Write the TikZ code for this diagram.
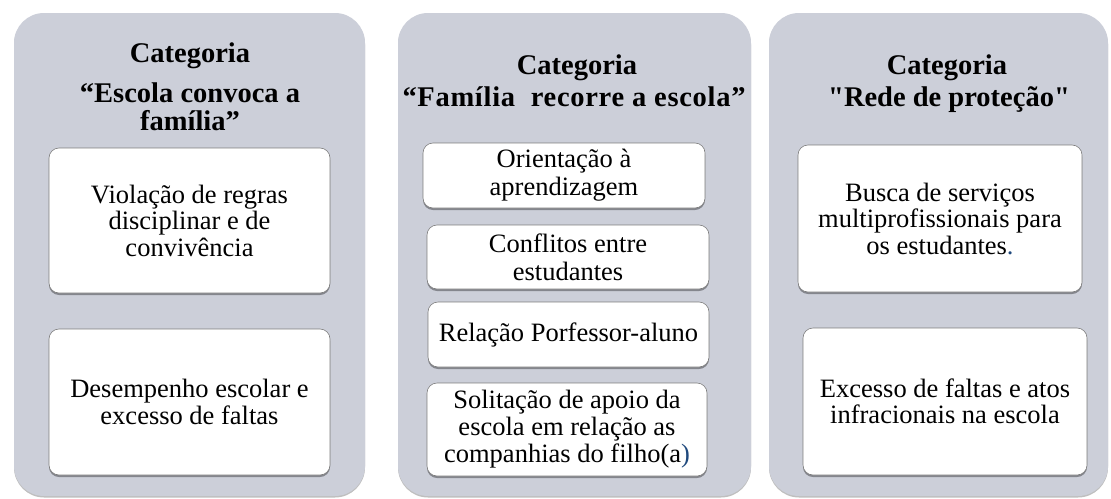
\documentclass[tikz,border=0pt]{standalone}
\usepackage{fontspec}
\setmainfont{Liberation Serif}[Ligatures=TeXOff]
\usetikzlibrary{shadows}
\definecolor{panelgray}{RGB}{204,207,217}
\definecolor{boxedge}{RGB}{125,125,125}
\definecolor{dotblue}{RGB}{31,73,125}
\newcommand{\titlefont}{\fontsize{28.5}{28.5}\selectfont\bfseries}
\newcommand{\bodyfont}{\fontsize{26.5}{26.5}\selectfont}
\begin{document}
\begin{tikzpicture}[x=1pt,y=-1pt,
  panel/.style={fill=panelgray, rounded corners=30pt, inner sep=0pt, outer sep=0pt,
    anchor=north west,
    drop shadow={shadow xshift=0pt, shadow yshift=-1.5pt, opacity=0.25, fill=black}},
  item/.style={fill=white, draw=boxedge, line width=0.6pt, rounded corners=10pt,
    inner sep=2pt, outer sep=0pt, align=center, font=\bodyfont, anchor=north west,
    drop shadow={shadow xshift=0pt, shadow yshift=-2pt, opacity=0.35, fill=black}},
  title/.style={font=\titlefont, anchor=base, inner sep=0pt}]
\useasboundingbox[fill=white] (0,0) rectangle (1111,498);

% panels
\node[panel, minimum width=351pt, minimum height=483pt] (p1) at (14,13) {};
\node[panel, minimum width=353pt, minimum height=483pt] (p2) at (398,13) {};
\node[panel, minimum width=339pt, minimum height=483pt] (p3) at (769,13) {};

% titles
\node[title] (t1a) at (190,62) {Categoria};
\node[title] (t1b) at (190,102) {“Escola convoca a};
\node[title] (t1c) at (190,130) {família”};
\node[title] (t2a) at (577,74) {Categoria};
\node[title] (t2b) at (574,106) {\addfontfeature{LetterSpace=2.5}“Família\ \ recorre a escola”};
\node[title] (t3a) at (947,74) {Categoria};
\node[title] (t3b) at (949,106) {"Rede de proteção"};

% items panel 1
\node[item, minimum width=281pt, minimum height=145pt] (a1) at (49,148)
  {Violação de regras\\disciplinar e de\\convivência};
\node[item, minimum width=281pt, minimum height=146pt] (a2) at (49,329)
  {Desempenho escolar e\\excesso de faltas};

% items panel 2
\node[item, minimum width=282pt, minimum height=65pt, font=\fontsize{26.5}{28}\selectfont] (b1) at (423,143)
  {Orientação à\\aprendizagem};
\node[item, minimum width=282pt, minimum height=64pt, font=\fontsize{26.5}{28}\selectfont] (b2) at (427,225)
  {Conflitos entre\\estudantes};
\node[item, minimum width=281pt, minimum height=65pt] (b3) at (428,302)
  {Relação Porfessor-aluno};
\node[item, minimum width=280pt, minimum height=93pt, font=\fontsize{26.5}{27}\selectfont] (b4) at (427,383)
  {Solitação de apoio da\\escola em relação as\\companhias do filho(a\textcolor{dotblue}{)}};

% items panel 3
\node[item, minimum width=284pt, minimum height=147pt] (c1) at (798,145)
  {Busca de serviços\\multiprofissionais para\\os estudantes\textcolor{dotblue}{.}};
\node[item, minimum width=284pt, minimum height=147pt] (c2) at (803,328)
  {Excesso de faltas e atos\\infracionais na escola};
\end{tikzpicture}
\end{document}
